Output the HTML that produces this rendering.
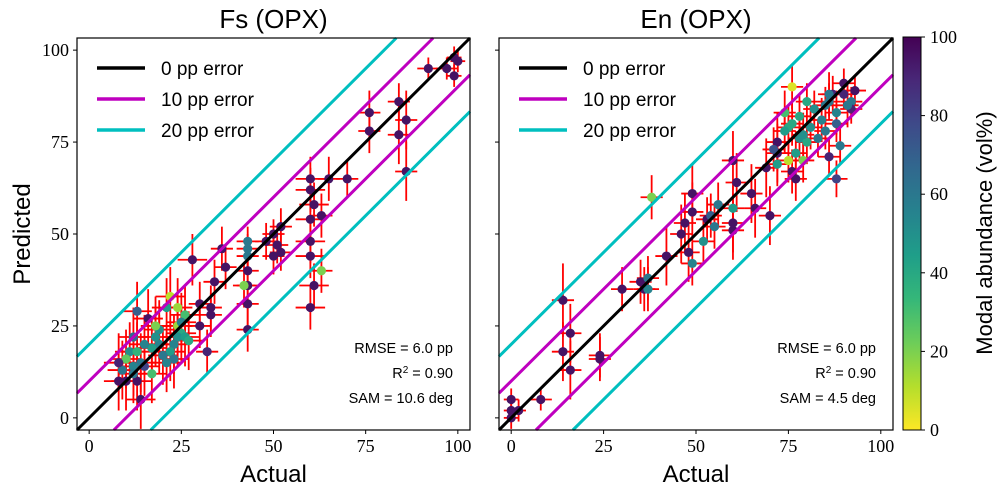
<!DOCTYPE html>
<html><head><meta charset="utf-8"><style>
html,body{margin:0;background:#fff;overflow:hidden;width:1004px;height:495px}
svg{display:block}
svg text{font-family:"Liberation Sans",sans-serif}
.tk{font-family:"Liberation Serif",serif;font-size:18px}
</style></head><body>
<svg id="s" width="1004" height="495" viewBox="0 0 1004 495" xmlns="http://www.w3.org/2000/svg"></svg>
<script>
// Fs (OPX): actual, predicted, x-error, y-error, modal abundance
const fsActual=[97,99,100,99,92,84,84,86,86,76,76,70,65,60,60,61,60,60,60,61,60,63,63,50,51,52,50,48,52,43,43,43,43,43,43,43,42,36,37,34,33,33,30,32,30,28,25,24,23,22,24,26,21,20,19,18,17,16,15,14,13,12,12,11,10,9,8,8,13,15,14,22,24,25,26,27,23,21,19,17,12,10,13,18];
const fsPred=[95,98,97,93,95,86,77,81,67,83,78,65,65,65,62,58,54,48,44,36,30,40,55,50,47,45,44,48,52,48,46,44,40,36,31,24,36,46,41,37,30,28,25,18,31,43,23,22,20,18,25,28,30,17,20,22,19,27,20,15,10,14,12,18,16,13,10,15,29,14,5,33,30,26,22,21,16,15,24,12,22,10,18,25];
const fsErrX=[3,2,2,2,3,3,3,3,3,3,3,3,3,4,4,4,4,4,4,4,4,3,3,3,3,3,3,3,3,3,3,3,3,3,3,3,3,3,3,3,3,3,3,3,3,4,4,4,4,4,4,4,4,4,4,4,4,4,4,4,4,4,4,4,4,4,4,4,4,4,4,4,4,4,4,4,4,4,4,4,4,4,4,4];
const fsErrY=[3,3,3,3,3,5,8,8,8,6,6,5,6,6,6,6,6,6,6,6,6,6,6,4,5,5,5,5,5,4,4,4,4,6,6,6,6,6,6,6,6,6,6,6,6,7,8,8,8,8,8,8,8,8,8,8,8,8,8,8,8,8,8,8,8,8,8,8,8,8,8,8,8,8,8,8,8,8,8,8,8,8,8,8];
const fsModal=[95,95,95,95,95,95,95,95,95,95,95,95,95,95,95,95,95,95,95,95,95,20,95,95,95,95,95,95,95,60,60,60,95,95,95,95,20,95,95,95,95,95,95,90,95,95,40,50,55,45,15,30,45,60,55,50,45,95,55,60,95,55,60,50,25,60,95,90,70,80,95,10,15,55,45,40,60,55,50,30,65,95,35,20];
// En (OPX)
const enActual=[0,0,0,2,8,14,14,16,16,24,24,30,35,36,37,38,42,47,46,49,49,48,53,55,54,56,60,60,60,61,65,66,69,70,72,72,75,76,77,71,75,76,74,78,78,80,79,85,85,87,86,88,90,90,92,92,89,83,86,88,93,82,80,37,49,52,60,72,77,79,81,84,88,91,86,76,74];
const enPred=[0,2,5,2,5,32,18,23,13,17,16,35,37,35,38,60,44,53,50,56,61,45,54,52,55,58,51,53,70,64,61,57,68,55,72,75,70,67,65,73,79,80,83,82,76,75,70,78,85,88,86,80,88,91,86,84,74,76,71,65,89,84,86,35,42,48,57,69,72,77,79,81,83,85,88,90,78];
const enErrX=[2,2,2,2,3,3,3,3,3,3,3,3,3,3,3,3,3,3,3,3,3,3,3,3,3,3,3,3,3,3,3,3,3,3,3,3,3,3,3,3,3,3,3,3,3,3,3,3,3,3,3,3,3,3,3,3,3,3,3,3,3,3,3,3,3,3,3,3,3,3,3,3,3,3,3,3,3];
const enErrY=[3,3,3,3,3,10,8,8,8,6,6,6,6,6,6,6,8,8,8,8,8,8,6,6,6,6,8,8,8,8,8,8,8,8,8,8,6,6,6,6,6,6,6,6,6,6,6,5,5,5,5,5,4,4,4,4,5,5,5,5,4,5,5,6,6,6,6,6,6,6,6,6,6,6,6,6,6];
const enModal=[95,95,95,95,95,95,95,95,95,95,95,95,95,95,60,20,95,95,95,95,95,95,95,60,70,60,95,95,95,95,95,95,95,95,95,95,10,95,95,75,40,40,30,40,50,40,20,60,60,90,60,70,90,95,60,90,60,60,90,80,95,50,40,55,55,50,45,45,45,50,50,55,55,60,60,5,45];
const xTicks=[0,25,50,75,100];
const yTicks=[0,25,50,75,100];
const cbTicks=[0,20,40,60,80,100];

const NS="http://www.w3.org/2000/svg",S=document.getElementById('s');
function el(t,a,p){const e=document.createElementNS(NS,t);for(const k in a)e.setAttribute(k,a[k]);(p||S).appendChild(e);return e;}
// viridis_r: 100 -> dark purple, 0 -> yellow
const VIR=[[68,1,84],[72,40,120],[62,74,137],[49,104,142],[38,130,142],[31,158,137],[53,183,121],[109,205,89],[180,222,44],[253,231,37]];
function vir(v){v=Math.max(0,Math.min(1,v));const f=v*(VIR.length-1),i=Math.min(VIR.length-2,Math.floor(f)),t=f-i;const c=VIR[i].map((a,j)=>Math.round(a+(VIR[i+1][j]-a)*t));return`rgb(${c})`;}
const cmap=m=>vir(1-m/100);
const LIM=[-3.3,103.3],TOP=38,BOT=430;
const cl0=v=>Math.max(LIM[0],Math.min(LIM[1],v));
function panel(x0,x1,title,A,P,EX,EY,M,stats,showY,key){
  const sx=v=>x0+(v-LIM[0])/(LIM[1]-LIM[0])*(x1-x0);
  const sy=v=>BOT-(v-LIM[0])/(LIM[1]-LIM[0])*(BOT-TOP);
  const g=el('g',{});
  
  
  const pg=el('g',{},g);
  for(let i=0;i<A.length;i++){
    const e1=el('line',{x1:sx(cl0(A[i]-EX[i])),x2:sx(cl0(A[i]+EX[i])),y1:sy(P[i]),y2:sy(P[i]),stroke:'#f00','stroke-width':1.8},pg);
    
    
    const e2=el('line',{x1:sx(A[i]),x2:sx(A[i]),y1:sy(cl0(P[i]-EY[i])),y2:sy(cl0(P[i]+EY[i])),stroke:'#f00','stroke-width':1.8},pg);
    
    
  }
  for(let i=0;i<A.length;i++){
    const c=el('circle',{cx:sx(A[i]),cy:sy(P[i]),r:4.6,fill:cmap(M[i])},pg);
    
    
  }
  [[0,'#000'],[10,'#bf00bf'],[-10,'#bf00bf'],[20,'#00bfbf'],[-20,'#00bfbf']].forEach(([o,c])=>{
    const a=Math.max(LIM[0],LIM[0]-o),b=Math.min(LIM[1],LIM[1]-o);
    const l=el('line',{x1:sx(a),y1:sy(a+o),x2:sx(b),y2:sy(b+o),stroke:c,'stroke-width':3},pg);
    
    
  });
  el('rect',{x:x0,y:TOP,width:x1-x0,height:BOT-TOP,fill:'none',stroke:'#000','stroke-width':1.2},g);
  xTicks.forEach(t=>{el('line',{x1:sx(t),x2:sx(t),y1:BOT,y2:BOT+4,stroke:'#000'},g);
    const tx=el('text',{x:sx(t),y:BOT+22,'text-anchor':'middle',class:'tk'},g);tx.textContent=t;
    });
  yTicks.forEach(t=>{el('line',{x1:x0,x2:x0-4,y1:sy(t),y2:sy(t),stroke:'#000'},g);
    if(showY){const tx=el('text',{x:x0-8,y:sy(t)+6,'text-anchor':'end',class:'tk'},g);tx.textContent=t;
    }});
  const ti=el('text',{x:(x0+x1)/2,y:28,'text-anchor':'middle','font-size':26},g);ti.textContent=title;
  
  const xl=el('text',{x:(x0+x1)/2,y:482,'text-anchor':'middle','font-size':24},g);xl.textContent='Actual';
  
  const lg=el('g',{},g);
  [['0 pp error','#000'],['10 pp error','#bf00bf'],['20 pp error','#00bfbf']].forEach(([t,c],i)=>{
    const y=68+i*31;el('line',{x1:x0+20,x2:x0+68,y1:y,y2:y,stroke:c,'stroke-width':3.5},lg);
    const tx=el('text',{x:x0+84,y:y+7,'font-size':19},lg);tx.textContent=t;});
  const st=el('g',{},g);
  stats.forEach((t,i)=>{const tx=el('text',{x:x1-17,y:353+i*25,'text-anchor':'end','font-size':14.5},st);tx.innerHTML=t;});
}
panel(77,470,'Fs (OPX)',fsActual,fsPred,fsErrX,fsErrY,fsModal,['RMSE = 6.0 pp','R<tspan baseline-shift="super" font-size="10">2</tspan> = 0.90','SAM = 10.6 deg'],true,'fs');
panel(499,893,'En (OPX)',enActual,enPred,enErrX,enErrY,enModal,['RMSE = 6.0 pp','R<tspan baseline-shift="super" font-size="10">2</tspan> = 0.90','SAM = 4.5 deg'],false,'en');
const yl=el('text',{transform:'translate(30,234) rotate(-90)','text-anchor':'middle','font-size':24});yl.textContent='Predicted';

// colorbar
const cb=el('g',{});
const gd=el('linearGradient',{id:'vg',x1:0,y1:0,x2:0,y2:1},el('defs',{},cb));
VIR.forEach((c,i)=>el('stop',{offset:i/(VIR.length-1),'stop-color':`rgb(${c})`},gd));
const CT=37,CB=430;
el('rect',{x:903,y:CT,width:18,height:CB-CT,fill:'url(#vg)',stroke:'#000','stroke-width':1},cb);
cbTicks.forEach(t=>{const y=CB-t/100*(CB-CT);el('line',{x1:921,x2:925,y1:y,y2:y,stroke:'#000'},cb);
  const tx=el('text',{x:930,y:y+6,class:'tk'},cb);tx.textContent=t;
  });
const cl=el('text',{transform:'translate(992,233) rotate(-90)','text-anchor':'middle','font-size':22},cb);cl.textContent='Modal abundance (vol%)';
</script>
</body></html>
